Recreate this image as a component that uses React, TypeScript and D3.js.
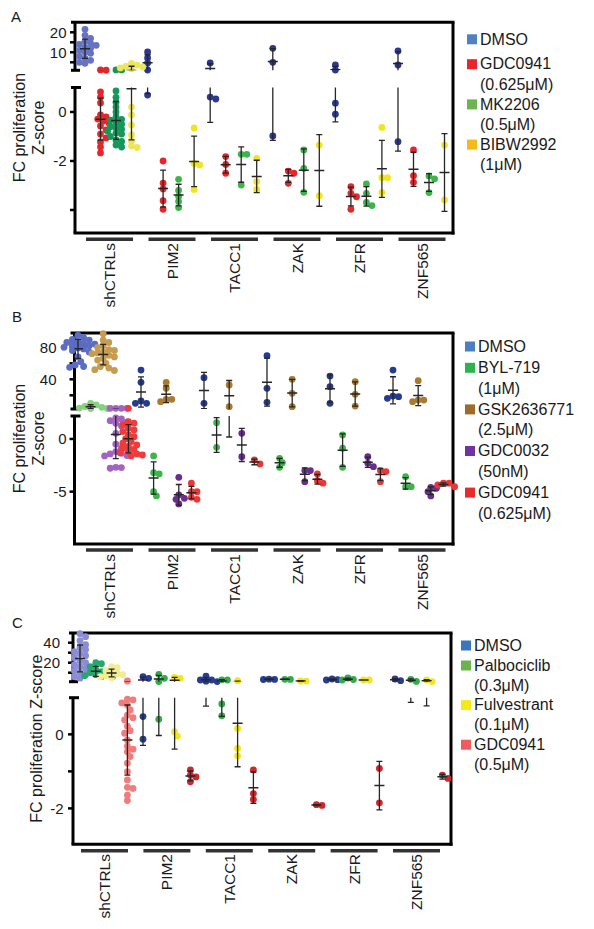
import React from "react";
import * as d3 from "d3";

const GENES = ["shCTRLs", "PIM2", "TACC1", "ZAK", "ZFR", "ZNF565"];

// ---------------- Panel A ----------------
const A_SERIES = ["DMSO", "GDC0941", "MK2206", "BIBW2992"];
const A_LEGEND = [["DMSO"], ["GDC0941", "(0.625μM)"], ["MK2206", "(0.5μM)"], ["BIBW2992", "(1μM)"]];
const A_DMSO = [
  [21.5, 18.5, 17, 15.5, 14.5, 14, 13.5, 12.5, 12, 11, 10, 9.5, 8, 7, 6, 5, 4.5],
  [10.15, 7.15, 4.65, 1.15, 0.69],
  [4.65, 0.61, 0.53],
  [12, 5, -0.98],
  [3.65, 1.15, 0.36, -0.09],
  [10.65, 3.65, -1.21],
];
const A_GDC0941 = [
  [1.2, 1.02, 0.82, 0.61, 0.37, -0.12, -0.2, -0.29, -0.37, -0.45, -0.57, -0.73, -0.9, -1.06, -1.22, -1.43, -1.67],
  [-2.0, -2.9, -3.14, -3.62, -3.97],
  [-1.82, -2.14, -2.5],
  [-2.41, -2.5, -2.91],
  [-3.05, -3.32, -3.46, -3.97],
  [-1.55, -2.6, -2.87],
];
const A_MK2206 = [
  [1.2, 1.2, 0.86, 0.6, 0.4, 0.2, 0.0, -0.2, -0.3, -0.33, -0.45, -0.5, -0.6, -0.65, -0.7, -0.78, -0.86, -0.9, -1.0, -1.14, -1.2, -1.35, -1.43],
  [-2.75, -3.2, -3.45, -3.65, -3.9],
  [-1.73, -1.73, -2.98],
  [-1.55, -2.3, -3.28],
  [-2.94, -3.32, -3.69, -3.82],
  [-2.61, -2.73, -3.29],
];
const A_BIBW2992 = [
  [4.5, 3.6, 3.0, 2.6, 2.2, 1.8, 0.2, -0.12, -0.53, -0.94, -1.18, -1.39, -1.45],
  [-0.65, -2.1, -2.16, -3.16],
  [-1.89, -2.84, -3.16],
  [-1.35, -3.42],
  [-0.63, -2.68, -2.68, -3.29],
  [-1.35, -3.59],
];
const A_UPPER_TICKS = [20, 10];
const A_UPPER_MINOR = [15, 5];
const A_LOWER_TICKS = [0, -2];
const A_LOWER_MINOR = [-4];

// ---------------- Panel B ----------------
const B_SERIES = ["DMSO", "BYL-719", "GSK2636771", "GDC0032", "GDC0941"];
const B_LEGEND = [["DMSO"], ["BYL-719", "(1μM)"], ["GSK2636771", "(2.5μM)"], ["GDC0032", "(50nM)"], ["GDC0941", "(0.625μM)"]];
const B_DMSO = [
  [95, 92, 90, 89, 87, 86, 85, 84, 83, 82, 81, 80, 79, 78, 76, 74, 68, 62, 58, 56, 55],
  [51.6, 36.2, 12.9, 10, 10],
  [42, 10],
  [69.5, 28.7, 11.2],
  [44.1, 30.8, 10],
  [51.6, 19.1, 18.3, 16.2],
];
const B_BYL719 = [
  [10, 8, 6, 5, 4, 3.5, 3.5],
  [-1.61, -3.2, -3.32, -5.0, -5.41],
  [1.55, -0.79],
  [-1.84, -2.25, -2.69],
  [0.38, -0.88, -2.69],
  [-3.58, -4.53, -4.53],
];
const B_GSK = [
  [97, 89, 86, 82, 80, 77, 76, 74, 73, 72, 70, 68, 66, 64, 60, 56, 54, 52, 51],
  [36.2, 28.7, 15, 15, 12],
  [32.9, 5.8],
  [40, 22.5, 5.8],
  [37, 21.2, 6.6],
  [38.3, 14.1, 14.1, 12],
];
const B_GDC0032 = [
  [3.8, 3.8, 3.8, 3.8, 2.0, 1.9, 1.74, 1.6, 1.49, 1.23, 0.54, -0.5, -0.88, -1.2, -1.36, -1.42, -1.58, -1.61, -2.69, -2.72, -2.78],
  [-3.64, -5.32, -5.63, -5.73, -6.17],
  [0.54, -1.68],
  [-3.0, -3.0, -4.05],
  [-1.68, -2.31, -2.63],
  [-4.59, -4.68, -5.0, -5.41],
];
const B_GDC0941 = [
  [3.7, 1.64, 1.5, 1.33, 1.02, 0.85, 0.7, 0.4, 0.22, 0, -0.25, -0.4, -0.57, -0.7, -0.88, -1.0, -1.2, -1.3, -1.42, -1.52, -1.61],
  [-4.2, -5.0, -5.0, -5.54, -5.73],
  [-1.99, -2.37],
  [-3.32, -3.96, -4.2],
  [-3.0, -3.1, -4.05],
  [-4.2, -4.2, -4.37, -4.53],
];
const B_UPPER_TICKS = [80, 40];
const B_UPPER_MINOR = [60, 20];
const B_LOWER_TICKS = [0, -5];
const B_LOWER_MINOR: number[] = [];

// ---------------- Panel C ----------------
const C_SERIES = ["DMSO", "Palbociclib", "Fulvestrant", "GDC0941"];
const C_LEGEND = [["DMSO"], ["Palbociclib", "(0.3μM)"], ["Fulvestrant", "(0.1μM)"], ["GDC0941", "(0.5μM)"]];
const C_DMSO = [
  [49, 46, 42, 38, 35, 33, 31, 29, 27, 25, 22, 20, 18, 16, 14, 12, 10, 8, 6, 4.5],
  [6, 4.4, 0.48, -0.13],
  [6.5, 2.7, 2.7, 1.5, 1.1],
  [3.5, 3.3, 3.2],
  [3.7, 3.0, 2.7],
  [3.7, 2.0],
];
const C_PALBO = [
  [20, 19, 16, 13, 11, 10, 9, 8, 7, 6, 6],
  [8.4, 4.4, 1.2, 0.41],
  [2.9, 2.7, 0.82, 0.5],
  [3.4, 3.3],
  [4.7, 3.2, 2.7],
  [3.4, 1.3],
];
const C_FULV = [
  [16, 15, 12, 10, 9, 8, 7, 6, 5],
  [5.4, 4.4, 0.07, -0.05],
  [2.0, 0.16, -0.38, -0.58],
  [1.7, 1.6],
  [2.7, 2.7],
  [2.7, 1.1],
];
const C_GDC0941 = [
  [1.7, 0.95, 0.93, 0.85, 0.79, 0.66, 0.52, 0.45, 0.39, 0.22, 0.1, 0.03, -0.15, -0.32, -0.4, -0.47, -0.6, -0.78, -1.01, -1.23, -1.43, -1.46, -1.64, -1.79],
  [-0.96, -1.1, -1.15, -1.28],
  [-0.96, -1.6, -1.76],
  [-1.9, -1.92],
  [-0.92, -1.85],
  [-1.19, -1.1],
];
const C_UPPER_TICKS = [40, 20];
const C_UPPER_MINOR = [30, 10];
const C_LOWER_TICKS = [0, -2];
const C_LOWER_MINOR = [-1];

const FONT = "'Liberation Sans', Arial, Helvetica, sans-serif";
const INK = "#1a1a1a";

type Cfg = {
  id: string;
  letter: string; letterX: number; letterY: number;
  axisX: number; rightX: number; topY: number; upperBottomY: number; lowerTopY: number; bottomY: number;
  upperDomain: [number, number]; lowerDomain: [number, number];
  upperTicks: number[]; upperMinor: number[]; lowerTicks: number[]; lowerMinor: number[];
  upperLabelRight: number; lowerLabelRight: number;
  series: string[]; data: number[][][]; colors: [string, string][];
  firstX: number; groupStep: number; seriesSpan: number;
  barC0: number; barStep: number; barHalf: number; barY: number; catTop: number;
  title: string[]; titleX: number[];
  legend: string[][]; legendColors: string[]; legSqX: number; legTextX: number;
  legFirst: number; legSecond: number; legStep: number;
};

function Panel({ c }: { c: Cfg }) {
  const yU = d3.scaleLinear().domain(c.upperDomain).range([c.upperBottomY, c.topY]);
  const yL = d3.scaleLinear().domain(c.lowerDomain).range([c.bottomY, c.lowerTopY]);
  const split = c.lowerDomain[1];
  const yOf = (v: number) => (v > split ? yU(v) : yL(v));
  const xGene = d3.scalePoint<string>().domain(GENES).range([c.firstX, c.firstX + c.groupStep * (GENES.length - 1)]);
  const xSer = d3.scalePoint<string>().domain(c.series).range([0, c.seriesSpan]);
  const xBar = d3.scalePoint<string>().domain(GENES).range([c.barC0, c.barC0 + c.barStep * (GENES.length - 1)]);
  const R = 3.4;
  const upClip = `${c.id}-up`;
  const loClip = `${c.id}-lo`;

  const dots: JSX.Element[] = [];
  const bars: JSX.Element[] = [];
  c.series.forEach((s, si) => {
    GENES.forEach((g, gi) => {
      const vals = c.data[si][gi];
      const cx = (xGene(g) as number) + (xSer(s) as number);
      const color = gi === 0 ? c.colors[si][0] : c.colors[si][1];
      const pts = vals.map((v) => ({ v, y: yOf(v), x: cx }));
      const order = [...pts].sort((a, b) => a.y - b.y);
      const placed: { x: number; y: number }[] = [];
      for (const p of order) {
        for (let k = 0; k < 12; k++) {
          const off = k === 0 ? 0 : (k % 2 ? 1 : -1) * Math.ceil(k / 2) * 2.8;
          const x = cx + off;
          if (placed.every((q) => Math.hypot(q.x - x, q.y - p.y) >= 2 * R * 0.72)) {
            p.x = x;
            break;
          }
        }
        placed.push(p);
      }
      pts.forEach((p, pi) => {
        dots.push(<circle key={`${s}-${g}-${pi}`} cx={p.x} cy={p.y} r={R} fill={color} />);
      });
      const mean = d3.mean(vals) as number;
      const sd = vals.length > 1 ? (d3.deviation(vals) as number) : 0;
      const seg = (ys: (v: number) => number, clip: string, key: string) => (
        <g key={key} clipPath={`url(#${clip})`} stroke="#262626" strokeWidth={1.3}>
          {sd > 0 && <line x1={cx} x2={cx} y1={ys(mean - sd)} y2={ys(mean + sd)} />}
          {sd > 0 && <line x1={cx - 3} x2={cx + 3} y1={ys(mean - sd)} y2={ys(mean - sd)} />}
          {sd > 0 && <line x1={cx - 3} x2={cx + 3} y1={ys(mean + sd)} y2={ys(mean + sd)} />}
          <line x1={cx - 5} x2={cx + 5} y1={ys(mean)} y2={ys(mean)} strokeWidth={1.5} />
        </g>
      );
      bars.push(seg(yU, upClip, `u-${s}-${g}`));
      bars.push(seg(yL, loClip, `l-${s}-${g}`));
    });
  });

  const ax = c.axisX;
  const legYs: number[] = [];
  let li = 0;
  c.legend.forEach((lines) => {
    lines.forEach(() => {
      legYs.push(li === 0 ? c.legFirst : c.legSecond + (li - 1) * c.legStep);
      li++;
    });
  });
  let lineIdx = 0;

  return (
    <g fontFamily={FONT} fill={INK}>
      <defs>
        <clipPath id={upClip}>
          <rect x={ax} y={c.topY} width={c.rightX - ax} height={c.upperBottomY - c.topY} />
        </clipPath>
        <clipPath id={loClip}>
          <rect x={ax} y={c.lowerTopY} width={c.rightX - ax} height={c.bottomY - c.lowerTopY} />
        </clipPath>
      </defs>
      <text x={c.letterX} y={c.letterY} fontSize={15}>{c.letter}</text>

      {/* frame */}
      <g stroke="#000" strokeWidth={3} fill="none">
        <line x1={ax - 4} x2={c.rightX + 1.5} y1={c.topY} y2={c.topY} />
        <line x1={c.rightX} x2={c.rightX} y1={c.topY} y2={c.bottomY + 1.5} />
        <line x1={ax - 1.5} x2={c.rightX + 1.5} y1={c.bottomY} y2={c.bottomY} />
        <line x1={ax} x2={ax} y1={c.topY} y2={c.upperBottomY} />
        <line x1={ax - 4} x2={ax + 5} y1={c.upperBottomY} y2={c.upperBottomY} />
        <line x1={ax} x2={ax} y1={c.lowerTopY} y2={c.bottomY} />
        <line x1={ax - 4} x2={ax + 6} y1={c.lowerTopY} y2={c.lowerTopY} />
      </g>
      <g stroke="#000" strokeWidth={2.5}>
        {[...c.upperTicks, ...c.upperMinor].map((t) => (
          <line key={`ut${t}`} x1={ax - 5} x2={ax} y1={yU(t)} y2={yU(t)} />
        ))}
        {[...c.lowerTicks, ...c.lowerMinor].map((t) => (
          <line key={`lt${t}`} x1={ax - 5} x2={ax} y1={yL(t)} y2={yL(t)} />
        ))}
      </g>
      {c.upperTicks.map((t) => (
        <text key={`ul${t}`} x={c.upperLabelRight} y={yU(t) + 5.3} fontSize={15} textAnchor="end">{t}</text>
      ))}
      {c.lowerTicks.map((t) => (
        <text key={`ll${t}`} x={c.lowerLabelRight} y={yL(t) + 5.3} fontSize={15} textAnchor="end">{t}</text>
      ))}

      {/* y title */}
      {c.title.map((t, i) => (
        <text key={t} transform={`translate(${c.titleX[i]},${(c.topY + c.bottomY) / 2}) rotate(-90)`} fontSize={16} textAnchor="middle">
          {t}
        </text>
      ))}

      {/* category bars and labels */}
      {GENES.map((g) => (
        <g key={g}>
          <line x1={(xBar(g) as number) - c.barHalf} x2={(xBar(g) as number) + c.barHalf} y1={c.barY} y2={c.barY} stroke="#333" strokeWidth={3.5} />
          <text transform={`translate(${(xBar(g) as number) + 5.5},${c.catTop}) rotate(-90)`} fontSize={15.5} textAnchor="end">
            {g}
          </text>
        </g>
      ))}

      {dots}
      {bars}

      {/* legend */}
      {c.legend.map((lines, ei) => {
        const items = lines.map((ln, k) => {
          const y = legYs[lineIdx++];
          return (
            <g key={`${ei}-${k}`}>
              {k === 0 && <rect x={c.legSqX} y={y - 4.5} width={10} height={10} fill={c.legendColors[ei]} />}
              <text x={c.legTextX} y={y + 5.7} fontSize={16}>{ln}</text>
            </g>
          );
        });
        return <g key={ei}>{items}</g>;
      })}
    </g>
  );
}

const CFG_A: Cfg = {
  id: "pa", letter: "A", letterX: 11, letterY: 22,
  axisX: 75, rightX: 453, topY: 22.3, upperBottomY: 70.3, lowerTopY: 87.5, bottomY: 233,
  upperDomain: [1, 25], lowerDomain: [-4.94, 1],
  upperTicks: A_UPPER_TICKS, upperMinor: A_UPPER_MINOR, lowerTicks: A_LOWER_TICKS, lowerMinor: A_LOWER_MINOR,
  upperLabelRight: 66.5, lowerLabelRight: 66.5,
  series: A_SERIES, data: [A_DMSO, A_GDC0941, A_MK2206, A_BIBW2992],
  colors: [["#6673c2", "#2b3990"], ["#e5262b", "#e5262b"], ["#16985a", "#3db54a"], ["#eee65a", "#f2e51c"]],
  firstX: 85, groupStep: 62.6, seriesSpan: 46.5,
  barC0: 109.5, barStep: 62.5, barHalf: 23.5, barY: 239.3, catTop: 243,
  title: ["FC proliferation", "Z-score"], titleX: [25, 44],
  legend: A_LEGEND, legendColors: ["#4f81c4", "#e8262b", "#6db34f", "#f7b81a"],
  legSqX: 467, legTextX: 480, legFirst: 38.8, legSecond: 63.7, legStep: 20.1,
};

const CFG_B: Cfg = {
  id: "pb", letter: "B", letterX: 12, letterY: 322,
  axisX: 74.5, rightX: 453, topY: 333, upperBottomY: 409, lowerTopY: 416, bottomY: 544,
  upperDomain: [2.9, 97.9], lowerDomain: [-9.97, 2.18],
  upperTicks: B_UPPER_TICKS, upperMinor: B_UPPER_MINOR, lowerTicks: B_LOWER_TICKS, lowerMinor: B_LOWER_MINOR,
  upperLabelRight: 56.5, lowerLabelRight: 66.5,
  series: B_SERIES, data: [B_DMSO, B_BYL719, B_GSK, B_GDC0032, B_GDC0941],
  colors: [["#5b6cc4", "#243b8f"], ["#86d17f", "#3db54a"], ["#c89c4e", "#a97a30"], ["#a463c4", "#6a2d92"], ["#ef3b3c", "#ee3536"]],
  firstX: 78, groupStep: 63, seriesSpan: 50.4,
  barC0: 109.5, barStep: 62.5, barHalf: 23.5, barY: 550, catTop: 554,
  title: ["FC proliferation", "Z-score"], titleX: [25, 44],
  legend: B_LEGEND, legendColors: ["#4c7fc0", "#2cb34e", "#9d6c2a", "#7232a0", "#ea2a2c"],
  legSqX: 465, legTextX: 478, legFirst: 346, legSecond: 367.3, legStep: 20.8,
};

const CFG_C: Cfg = {
  id: "pc", letter: "C", letterX: 12, letterY: 628,
  axisX: 73, rightX: 451, topY: 633, upperBottomY: 681.7, lowerTopY: 697.7, bottomY: 844.3,
  upperDomain: [1, 49.7], lowerDomain: [-2.97, 0.99],
  upperTicks: C_UPPER_TICKS, upperMinor: C_UPPER_MINOR, lowerTicks: C_LOWER_TICKS, lowerMinor: C_LOWER_MINOR,
  upperLabelRight: 60, lowerLabelRight: 63.5,
  series: C_SERIES, data: [C_DMSO, C_PALBO, C_FULV, C_GDC0941],
  colors: [["#8a8dd6", "#263d90"], ["#25a86c", "#34aa4c"], ["#f4ec90", "#f3e61e"], ["#f07c7c", "#d1262b"]],
  firstX: 80, groupStep: 63, seriesSpan: 47.4,
  barC0: 104.5, barStep: 62.4, barHalf: 23.5, barY: 850.7, catTop: 854,
  title: ["FC proliferation Z-score"], titleX: [42],
  legend: C_LEGEND, legendColors: ["#3d76bd", "#6ab34f", "#f4ea1a", "#f05b5e"],
  legSqX: 461, legTextX: 474, legFirst: 645, legSecond: 665, legStep: 19.8,
};

export default function App() {
  return (
    <svg width={594} height={929} style={{ position: "absolute", left: 0, top: 0, background: "#fff" }}>
      <rect width={594} height={929} fill="#fff" />
      <Panel c={CFG_A} />
      <Panel c={CFG_B} />
      <Panel c={CFG_C} />
    </svg>
  );
}
